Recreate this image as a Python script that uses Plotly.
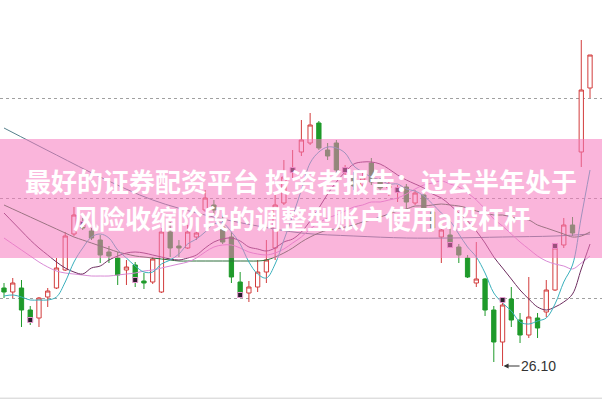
import plotly.graph_objects as go

# ---- data (prices) ----
idx = list(range(68))
open_ = [26.88, 26.84, 26.88, 26.66, 26.58, 26.79, 26.88, 27.06, 27.42, 27.54,
         27.45, 27.36, 27.24, 27.18, 27.06, 27.11, 26.95, 26.94, 26.84, 27.44,
         27.30, 27.28, 27.39, 27.66, 27.71, 27.49, 27.39, 26.94, 26.83, 26.89,
         27.04, 27.28, 27.73, 28.04, 28.24, 28.33, 28.53, 28.26, 28.33, 28.04,
         27.98, 27.91, 28.13, 27.94, 27.88, 27.84, 27.89, 27.73, 27.81, 27.64,
         27.39, 27.41, 27.29, 27.18, 26.93, 26.97, 26.66, 26.34, 26.77, 26.56,
         26.41, 26.58, 26.64, 26.86, 27.31, 27.51, 28.24, 28.88]
high = [26.93, 26.98, 26.96, 26.70, 26.79, 26.88, 27.18, 27.44, 27.69, 27.58,
        27.48, 27.41, 27.30, 27.24, 27.16, 27.14, 27.03, 27.19, 27.48, 27.54,
        27.36, 27.51, 27.50, 27.86, 27.76, 27.63, 27.44, 27.04, 26.95, 27.16,
        27.36, 27.81, 28.16, 28.26, 28.56, 28.63, 28.55, 28.33, 28.36, 28.11,
        28.04, 28.04, 28.18, 27.98, 27.94, 27.91, 27.92, 27.86, 27.83, 27.68,
        27.54, 27.48, 27.32, 27.21, 27.34, 26.98, 26.70, 26.75, 26.89, 26.63,
        26.99, 26.63, 26.96, 27.31, 27.58, 27.59, 29.36, 29.21]
low = [26.78, 26.78, 26.49, 26.51, 26.49, 26.69, 26.87, 27.05, 27.40, 27.46,
       27.36, 27.13, 27.13, 26.91, 26.91, 26.89, 26.87, 26.92, 26.83, 27.19,
       27.19, 27.27, 27.36, 27.64, 27.62, 27.32, 26.93, 26.79, 26.74, 26.84,
       26.93, 27.16, 27.71, 27.98, 28.20, 28.31, 28.26, 28.16, 28.03, 27.98,
       27.86, 27.88, 27.91, 27.84, 27.80, 27.74, 27.66, 27.71, 27.64, 27.44,
       27.13, 27.28, 27.13, 26.98, 26.89, 26.60, 26.14, 26.10, 26.49, 26.33,
       26.38, 26.38, 26.59, 26.85, 27.28, 27.40, 28.09, 28.78]
close = [26.84, 26.93, 26.66, 26.58, 26.78, 26.85, 27.08, 27.40, 27.61, 27.48,
         27.38, 27.21, 27.20, 27.01, 27.09, 26.98, 26.93, 27.17, 27.44, 27.28,
         27.28, 27.44, 27.43, 27.78, 27.66, 27.34, 26.99, 26.82, 26.89, 27.04,
         27.16, 27.71, 27.99, 28.08, 28.36, 28.51, 28.28, 28.20, 28.06, 28.08,
         27.90, 27.98, 27.94, 27.88, 27.90, 27.88, 27.74, 27.83, 27.66, 27.48,
         27.46, 27.30, 27.21, 26.99, 26.97, 26.66, 26.34, 26.71, 26.56, 26.41,
         26.59, 26.48, 26.86, 27.28, 27.51, 27.43, 28.86, 29.21]

ma5 = [26.80, 26.81, 26.79, 26.76, 26.76, 26.76, 26.79, 26.94, 27.14, 27.28,
       27.39, 27.42, 27.38, 27.26, 27.18, 27.10, 27.04, 27.04, 27.12, 27.16,
       27.22, 27.32, 27.37, 27.44, 27.52, 27.53, 27.44, 27.32, 27.14, 27.02,
       26.98, 27.12, 27.36, 27.60, 27.86, 28.13, 28.24, 28.29, 28.28, 28.23,
       28.10, 28.04, 27.99, 27.96, 27.92, 27.92, 27.87, 27.85, 27.80, 27.72,
       27.63, 27.55, 27.42, 27.29, 27.19, 27.03, 26.83, 26.73, 26.65, 26.54,
       26.52, 26.55, 26.58, 26.72, 26.94, 27.11, 27.59, 28.06]
ma10 = [27.63, 27.54, 27.45, 27.36, 27.28, 27.21, 27.14, 27.08, 27.04, 27.02,
        27.08, 27.10, 27.16, 27.20, 27.23, 27.24, 27.23, 27.21, 27.19, 27.17,
        27.16, 27.18, 27.21, 27.28, 27.34, 27.37, 27.38, 27.35, 27.29, 27.27,
        27.25, 27.28, 27.34, 27.37, 27.44, 27.55, 27.68, 27.82, 27.94, 28.04,
        28.12, 28.14, 28.14, 28.12, 28.07, 28.01, 27.96, 27.92, 27.88, 27.82,
        27.78, 27.71, 27.63, 27.55, 27.45, 27.33, 27.19, 27.08, 26.97, 26.86,
        26.77, 26.69, 26.66, 26.69, 26.74, 26.82, 27.07, 27.32]
ma20 = [27.38, 27.32, 27.26, 27.20, 27.14, 27.09, 27.05, 27.03, 27.02, 27.01,
        27.00, 27.00, 27.00, 27.01, 27.02, 27.03, 27.05, 27.06, 27.08, 27.10,
        27.12, 27.14, 27.18, 27.24, 27.29, 27.31, 27.31, 27.28, 27.24, 27.22,
        27.21, 27.23, 27.27, 27.33, 27.39, 27.47, 27.53, 27.58, 27.61, 27.65,
        27.69, 27.71, 27.74, 27.74, 27.76, 27.78, 27.82, 27.87, 27.91, 27.93,
        27.95, 27.92, 27.89, 27.83, 27.76, 27.67, 27.57, 27.50, 27.42, 27.34,
        27.27, 27.20, 27.15, 27.12, 27.10, 27.07, 27.13, 27.20]
ma30 = [27.71, 27.67, 27.63, 27.59, 27.55, 27.51, 27.47, 27.43, 27.39, 27.36,
        27.33, 27.30, 27.27, 27.24, 27.22, 27.20, 27.19, 27.18, 27.17, 27.16,
        27.15, 27.15, 27.15, 27.15, 27.15, 27.15, 27.15, 27.15, 27.15, 27.15,
        27.16, 27.19, 27.23, 27.28, 27.34, 27.39, 27.43, 27.46, 27.47, 27.49,
        27.51, 27.54, 27.56, 27.59, 27.62, 27.65, 27.67, 27.70, 27.70, 27.71,
        27.72, 27.71, 27.70, 27.68, 27.65, 27.63, 27.61, 27.61, 27.59, 27.57,
        27.56, 27.51, 27.48, 27.45, 27.42, 27.39, 27.40, 27.44]
ma60_x = [0, 6, 11, 17, 23, 29, 34, 40, 46, 51, 57, 63, 67]
ma60 = [28.48, 28.21, 27.99, 27.76, 27.61, 27.50, 27.43, 27.40, 27.38, 27.38,
        27.39, 27.40, 27.42]

# small signal marks drawn on some candles
mark_x = [3, 9, 15, 27, 33, 39, 45, 51, 57, 63]
mark_y = [26.56, 27.52, 26.96, 26.81, 28.06, 28.06, 27.86, 27.31, 26.76, 27.30]

low_label = "26.10"
low_idx = 57
title_line1 = "最好的证券配资平台 投资者报告：过去半年处于"
title_line2 = "风险收缩阶段的调整型账户使用a股杠杆"
grid_levels = [28.78, 27.78, 26.78]

fig = go.Figure()

fig.add_trace(go.Candlestick(
    x=idx, open=open_, high=high, low=low, close=close,
    increasing=dict(line=dict(color="#d23c3c", width=1), fillcolor="white"),
    decreasing=dict(line=dict(color="#1e9a2a", width=1), fillcolor="#1e9a2a"),
    whiskerwidth=0, showlegend=False, hoverinfo="skip"))

line_specs = [
    (ma60_x, ma60, "#56808c"),
    (idx, ma30, "#2f6e3c"),
    (idx, ma20, "#d98ad6"),
    (idx, ma10, "#6e2e60"),
    (idx, ma5, "#3ab0bd"),
]
for xs, ys, col in line_specs:
    fig.add_trace(go.Scatter(x=xs, y=ys, mode="lines",
                             line=dict(color=col, width=1, shape="spline"),
                             showlegend=False, hoverinfo="skip"))

fig.add_trace(go.Scatter(x=mark_x, y=mark_y, mode="markers",
                         marker=dict(symbol="square", size=5, color="#2b1d2b",
                                     line=dict(color="#e59ad0", width=1)),
                         showlegend=False, hoverinfo="skip"))

H = 399
band_top, band_bot = 139, 258
fig.add_shape(type="rect", xref="paper", yref="paper", x0=0, x1=1,
              y0=(H - band_bot) / H, y1=(H - band_top) / H,
              fillcolor="rgba(245,120,190,0.55)", line=dict(width=0), layer="above")
fig.add_shape(type="line", xref="paper", yref="paper", x0=0, x1=1,
              y0=0.002, y1=0.002, line=dict(color="#cfcfcf", width=1))

fig.add_annotation(x=0.5, y=(H - 180) / H, xref="paper", yref="paper",
                   text="<b>" + title_line1 + "</b>", showarrow=False,
                   font=dict(family="Noto Sans CJK SC", size=26, color="white"))
fig.add_annotation(x=0.5, y=(H - 217) / H, xref="paper", yref="paper",
                   text="<b>" + title_line2 + "</b>", showarrow=False,
                   font=dict(family="Noto Sans CJK SC", size=26, color="white"))

fig.add_annotation(x=low_idx, y=low[low_idx], text=low_label, showarrow=True,
                   ax=36, ay=0, arrowhead=2, arrowsize=1, arrowwidth=1,
                   arrowcolor="#333", standoff=1,
                   font=dict(family="Arial, Liberation Sans", size=14, color="#333"))

fig.update_layout(
    width=602, height=399, margin=dict(l=0, r=0, t=0, b=0),
    paper_bgcolor="white", plot_bgcolor="white",
    xaxis=dict(range=[-0.457, 68.37], visible=False, rangeslider=dict(visible=False)),
    yaxis=dict(range=[29.76 - 3.99, 29.76], tickvals=grid_levels, showticklabels=False,
               showgrid=True, gridcolor="#a0a0a0", griddash="dot", gridwidth=1,
               zeroline=False, showline=False, ticks=""),
)

fig.write_html("out.html")
